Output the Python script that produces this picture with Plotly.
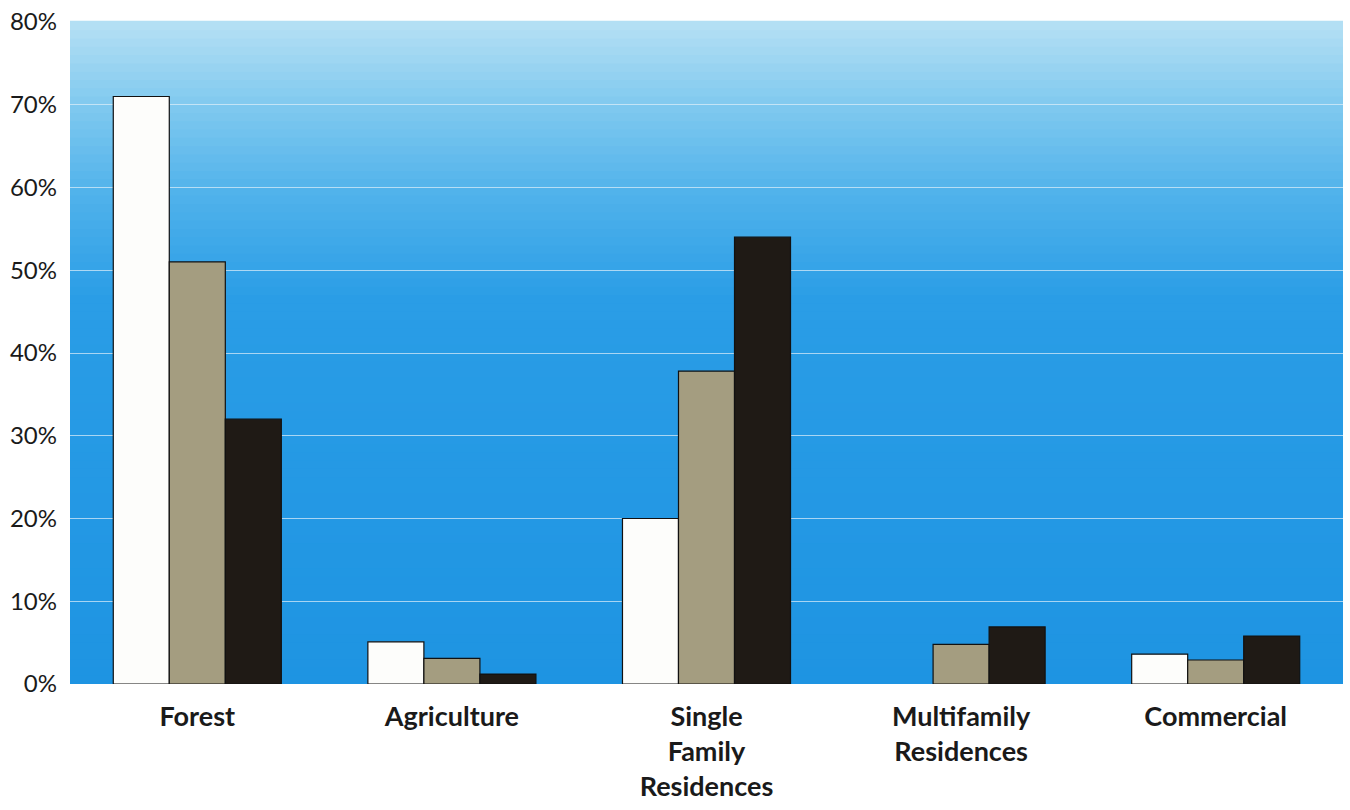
import plotly.graph_objects as go

# Land use shares (%) by category for three periods
categories = ["Forest", "Agriculture", "Single<br>Family<br>Residences",
              "Multifamily<br>Residences", "Commercial"]
series_white = [71.0, 5.1, 20.0, None, 3.6]
series_tan = [51.0, 3.1, 37.8, 4.8, 2.9]
series_black = [32.0, 1.2, 54.0, 6.9, 5.8]

tick_vals = [0, 10, 20, 30, 40, 50, 60, 70, 80]
tick_text = ["0%", "10%", "20%", "30%", "40%", "50%", "60%", "70%", "80%"]

fig = go.Figure()
for vals, color in [(series_white, "#fdfdfb"), (series_tan, "#a49d80"), (series_black, "#1f1a15")]:
    fig.add_trace(go.Bar(
        x=categories, y=vals,
        marker=dict(color=color, line=dict(color="#111111", width=1.2)),
        showlegend=False,
    ))

# Vertical sky gradient behind the plot area, light at the top, deep blue below
def lerp(a, b, t):
    return tuple(round(a[i] + (b[i] - a[i]) * t) for i in range(3))

stops = [(1.00, (182, 224, 244)), (0.88, (130, 202, 239)), (0.74, (80, 178, 235)),
         (0.58, (42, 157, 230)), (0.00, (30, 148, 226))]
n = 80
shapes = []
for k in range(n):
    y0, y1 = k / n, (k + 1) / n
    ym = (y0 + y1) / 2
    for j in range(len(stops) - 1):
        hi, lo = stops[j], stops[j + 1]
        if lo[0] <= ym <= hi[0]:
            t = (hi[0] - ym) / (hi[0] - lo[0])
            c = lerp(hi[1], lo[1], t)
            break
    shapes.append(dict(type="rect", xref="x domain", yref="y domain",
                       x0=0, x1=1, y0=y0, y1=y1 + 0.002, layer="below",
                       line=dict(width=0), fillcolor="rgb(%d,%d,%d)" % c))

fig.update_layout(
    width=1350, height=810,
    margin=dict(l=70, r=7, t=22, b=126),
    paper_bgcolor="white",
    plot_bgcolor="rgba(0,0,0,0)",
    barmode="group", bargap=0.34, bargroupgap=0,
    shapes=shapes,
    font=dict(family="Lato, sans-serif", color="#1a1a1a"),
    xaxis=dict(showgrid=False, showline=False, ticks="", zeroline=False,
               tickfont=dict(size=27, family="Lato, sans-serif", weight="bold"),
               ticklabelstandoff=14),
    yaxis=dict(range=[0, 80], tickvals=tick_vals, ticktext=tick_text,
               showgrid=True, gridcolor="rgba(225,240,250,0.7)", gridwidth=1,
               zeroline=False, showline=False, ticks="",
               tickfont=dict(size=24, family="Lato, sans-serif"),
               ticklabelstandoff=12),
)

fig.write_html("out.html")
